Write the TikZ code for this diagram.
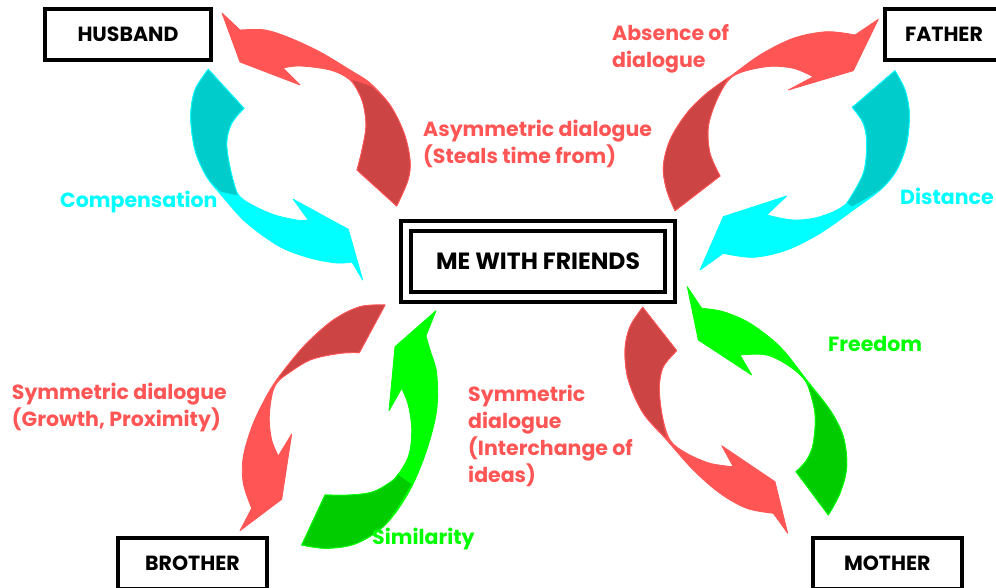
\documentclass[tikz,border=0pt]{standalone}
\usepackage{fontspec}
\setmainfont{Poppins}
\definecolor{ribred}{RGB}{255,85,85}
\definecolor{ribcyan}{RGB}{0,255,255}
\definecolor{ribgreen}{RGB}{0,255,0}
\begin{document}
\begin{tikzpicture}[x=1pt,y=-1pt,
  body/.style={fill=#1,draw=#1,line width=0.8pt,line join=round},
  twist/.style={fill=#1!80!black,draw=#1,line width=0.8pt,line join=round},
  rib/.style={smooth,tension=0.55},
  lbl/.style={anchor=base west,inner sep=0pt,align=left,text=#1,font=\fontsize{20.5}{27}\selectfont\bfseries},
  kin/.style={draw=black,line width=4pt,minimum width=#1,minimum height=51pt,inner sep=0pt,font=\fontsize{20.5}{24}\selectfont\bfseries},
]
\useasboundingbox (0,0) rectangle (996,588);
\clip (0,0) rectangle (996,588);

% ---------- husband cycle ----------
\path[body=ribred] plot[rib] coordinates {(396.7,206) (408,180) (410,160) (404,133) (390,105) (370,83) (350,70) (320,52) (290,38) (265,30) (240,30)}
  -- (222,13) -- (240,62) -- (300,85) -- (283,68)
  -- plot[rib] coordinates {(283,68) (300,66) (330,70) (350,80) (362,100) (366,125) (362,150) (357,170)} -- cycle;
\path[twist=ribred] plot[rib] coordinates {(396.7,206) (408,180) (410,160) (404,133) (390,105) (372,86)}
  -- plot[rib] coordinates {(351,79) (362,100) (366,125) (362,150) (357,170)} -- cycle;

\path[body=ribcyan] plot[rib] coordinates {(208.3,69.3) (195,90) (190.7,116.7) (195,150) (206.7,176.7) (223,197) (246.7,223) (280,246.7) (310,258) (336.7,263) (352,262)}
  -- (362.7,280) -- (348.3,229.3) -- (293.3,199.3) -- (308.3,220)
  -- plot[rib] coordinates {(308.3,220) (296.7,220) (270,213.3) (240,196.7) (231,172) (226.7,143.3) (231.7,123.3) (244,108.3)} -- cycle;
\path[twist=ribcyan] plot[rib] coordinates {(208.3,69.3) (195,90) (190.7,116.7) (195,150) (206.7,176.7) (220,192)}
  -- plot[rib] coordinates {(238,196) (231,172) (226.7,143.3) (231.7,123.3) (244,108.3)} -- cycle;

% ---------- father cycle ----------
\path[body=ribred] plot[rib] coordinates {(675,210.7) (666.7,190) (663.3,166.7) (670,140) (686.7,113.3) (706.7,93.3) (730,76.7) (760,55) (793.3,38.3) (826.7,31.7) (855,35)}
  -- (878.3,19.3) -- (853.3,70.7) -- (788.3,90) -- (813.3,76.7)
  -- plot[rib] coordinates {(813.3,76.7) (793.3,68.3) (766.7,66.7) (733.3,76) (716.7,100) (708.3,126.7) (710,153.3) (720,176)} -- cycle;
\path[twist=ribred] plot[rib] coordinates {(675,210.7) (666.7,190) (663.3,166.7) (670,140) (686.7,113.3) (706.7,93.3) (729,77)}
  -- plot[rib] coordinates {(729,77) (716.7,100) (708.3,126.7) (710,153.3) (720,176)} -- cycle;

\path[body=ribcyan] plot[rib] coordinates {(895,70.7) (905,90) (909.3,113.3) (906.7,143.3) (896.7,170) (880,190) (853.3,210) (820,233.3) (786.7,250) (753.3,257.3) (723.3,253.3)}
  -- (700,270) -- (723.3,216.7) -- (786.7,196) -- (766.7,215)
  -- plot[rib] coordinates {(766.7,215) (793.3,220) (820,216.7) (846.7,203.3) (863.3,173.3) (866.7,143.3) (863.3,123.3) (852.3,107.3)} -- cycle;
\path[twist=ribcyan] plot[rib] coordinates {(895,70.7) (905,90) (909.3,113.3) (906.7,143.3) (896.7,170) (880,190) (852,207)}
  -- plot[rib] coordinates {(846.7,203.3) (863.3,173.3) (866.7,143.3) (863.3,123.3) (852.3,107.3)} -- cycle;

% ---------- brother cycle ----------
\path[body=ribred] plot[rib] coordinates {(385,305) (360,306.7) (333.3,320) (306.7,343.3) (286.7,366.7) (270,390) (253.3,423.3) (243.3,456.7) (243.3,483.3) (251.7,508.3)}
  -- (240,530.7) -- (281.7,499.3) -- (291.7,434) -- (278.3,456)
  -- plot[rib] coordinates {(278.3,456) (271.7,440) (269.3,416.7) (273.3,390) (283.3,376.7) (310,360) (340,353.3) (359.3,352.7)} -- cycle;
\path[twist=ribred] plot[rib] coordinates {(385,305) (360,306.7) (333.3,320) (306.7,343.3) (286.7,366.7) (276,381)}
  -- plot[rib] coordinates {(276,381) (283.3,376.7) (310,360) (340,353.3) (359.3,352.7)} -- cycle;

\path[body=ribgreen] plot[rib] coordinates {(301.7,545) (326.7,548.3) (356.7,543.3) (386.7,523.3) (410,490) (426.7,450) (436.7,410) (436.7,373.3) (430,350) (426,336)}
  -- (436,310.7) -- (395,346.7) -- (389,410.7) -- (401.7,388.3)
  -- plot[rib] coordinates {(401.7,388.3) (408.3,405) (411.7,430) (408.3,456.7) (393.3,480) (373.3,491.7) (350,495) (325,495)} -- cycle;
\path[twist=ribgreen] plot[rib] coordinates {(301.7,545) (326.7,548.3) (356.7,543.3) (386.7,523.3) (412,484)}
  -- plot[rib] coordinates {(398,474) (393.3,480) (373.3,491.7) (350,495) (325,495)} -- cycle;

% ---------- mother cycle ----------
\path[body=ribred] plot[rib] coordinates {(642.7,307.3) (630,326.7) (625,350) (628.3,380) (643.3,413.3) (666.7,440) (693.3,470) (720,493.3) (746.7,508.3) (773.3,513.3)}
  -- (787.7,533.3) -- (775,481.7) -- (721.7,445.7) -- (733.3,466.7)
  -- plot[rib] coordinates {(733.3,466.7) (710,463.3) (686.7,453.3) (670,440) (661.7,413.3) (659.3,386.7) (663.3,366.7) (676.7,350.7)} -- cycle;
\path[twist=ribred] plot[rib] coordinates {(642.7,307.3) (630,326.7) (625,350) (628.3,380) (643.3,413.3) (667,439)}
  -- plot[rib] coordinates {(667,439) (661.7,413.3) (659.3,386.7) (663.3,366.7) (676.7,350.7)} -- cycle;

\path[body=ribgreen] plot[rib] coordinates {(828.3,515) (840,493.3) (846.7,466.7) (843.3,436.7) (830,410) (806.7,380) (780,346.7) (750,323.3) (723.3,311.7) (701.7,308.3)}
  -- (687.3,286.7) -- (698.3,340) -- (751.7,375) -- (740,355)
  -- plot[rib] coordinates {(740,355) (766.7,355) (790,366.7) (806.7,383.3) (815,413.3) (813.3,443.3) (806.7,460) (796,471.7)} -- cycle;
\path[twist=ribgreen] plot[rib] coordinates {(828.3,515) (840,493.3) (846.7,466.7) (843.3,436.7) (830,410) (807,382)}
  -- plot[rib] coordinates {(807,382) (815,413.3) (813.3,443.3) (806.7,460) (796,471.7)} -- cycle;

% ---------- boxes ----------
\node[kin=166pt] (husband) at (128,34.5) {HUSBAND};
\node[kin=118pt] (father) at (944,34.5) {FATHER};
\node[kin=149pt] (brother) at (192.5,563.5) {BROTHER};
\node[kin=149pt] (mother) at (887.3,563.2) {MOTHER};
\node[draw=black,line width=4pt,double=white,double distance=5.5pt,minimum width=264pt,minimum height=71pt,inner sep=0pt,font=\fontsize{23.5}{28}\selectfont\bfseries] (me) at (538,261.7) {ME WITH FRIENDS};

% ---------- labels (anchored at the baseline of the last line) ----------
\node[lbl=ribred] (asym) at (423,163.5) {Asymmetric dialogue\\(Steals time from)};
\node[lbl=ribcyan] (comp) at (60,207.5) {Compensation};
\node[lbl=ribred] (absence) at (612,67.5) {Absence of\\dialogue};
\node[lbl=ribcyan] (dist) at (900,205) {Distance};
\node[lbl=ribgreen] (free) at (828,351.5) {Freedom};
\node[lbl=ribred] (symgrow) at (11.7,426.3) {Symmetric dialogue\\(Growth, Proximity)};
\node[lbl=ribred] (symidea) at (468,482.5) {Symmetric\\dialogue\\(Interchange of\\ideas)};
\node[lbl=ribgreen] (simil) at (372,544.5) {Similarity};
\end{tikzpicture}
\end{document}
